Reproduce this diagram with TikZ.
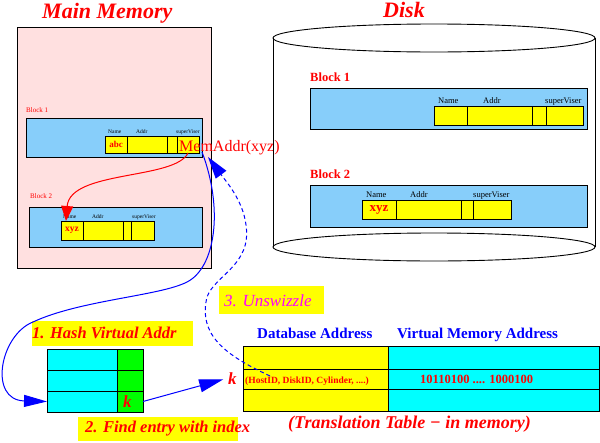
\documentclass[tikz,border=0pt]{standalone}
\usepackage{fontspec}
\setmainfont{Liberation Serif}
\usetikzlibrary{arrows.meta,calc}
\definecolor{mmpink}{RGB}{255,224,224}
\definecolor{skyb}{RGB}{135,206,250}
\definecolor{pcyan}{RGB}{0,255,255}
\definecolor{pgreen}{RGB}{0,255,0}
\definecolor{pyellow}{RGB}{255,255,0}
\definecolor{pred}{RGB}{255,0,0}
\definecolor{pblue}{RGB}{0,0,255}
\definecolor{pmagenta}{RGB}{255,0,255}
\newcommand\myfs[1]{\fontsize{#1}{#1}\selectfont}
\begin{document}
\begin{tikzpicture}[x=1pt,y=-1pt,
  box/.style={draw, line width=0.9pt, inner sep=0pt, outer sep=0pt, anchor=north west},
  lblbox/.style={fill=pyellow, inner sep=0pt, outer sep=0pt, anchor=north west},
  txt/.style={inner sep=0pt, anchor=base west},
  title/.style={txt, text=pred, font=\myfs{22}\bfseries\itshape},
  tinyhdr/.style={txt, font=\myfs{5.5}},
  diskhdr/.style={txt, font=\myfs{8.5}},
  steplbl/.style={txt, font=\myfs{16.5}\bfseries\itshape, text=pred},
  colhdr/.style={txt, font=\myfs{15}\bfseries, text=pblue},
  kletter/.style={txt, font=\myfs{17}\bfseries\itshape, text=pred},
  redcurve/.style={pred, line width=1pt, -{Triangle[length=15pt,width=12pt]}},
  bluecurve/.style={pblue, line width=1pt, -{Triangle[length=23pt,width=12pt]}},
  dashcurve/.style={pblue, line width=1pt, dash pattern=on 4pt off 3pt, -{Triangle[length=22pt,width=13pt]}},
  karrow/.style={pblue, line width=1pt, shorten >=5pt, -{Triangle[length=24pt,width=13pt]}}
]
\useasboundingbox (0,0) rectangle (600,442);

% titles
\node[title] (tmm) at (42,18) {Main Memory};
\node[title] (tdisk) at (383,17) {Disk};

% main memory
\node[box, fill=mmpink, minimum width=194pt, minimum height=241pt] (mm) at (17,27) {};
\node[txt, text=pred, font=\myfs{7}] (mmb1lbl) at (26,112) {Block 1};
\node[box, fill=skyb, minimum width=176pt, minimum height=39pt] (mm1) at (26,118) {};
\node[tinyhdr] (mm1h1) at (108,133) {Name};
\node[tinyhdr] (mm1h2) at (136,133) {Addr};
\node[tinyhdr] (mm1h3) at (176,133) {superViser};
\node[box, fill=pyellow, minimum width=22pt, minimum height=17pt] (m1n) at (105,136) {};
\node[box, fill=pyellow, minimum width=40pt, minimum height=17pt] (m1a) at (127,136) {};
\node[box, fill=pyellow, minimum width=10pt, minimum height=17pt] (m1x) at (167,136) {};
\node[box, fill=pyellow, minimum width=22pt, minimum height=17pt] (m1s) at (177,136) {};
\node[inner sep=0pt, text=pred, font=\myfs{9}\bfseries] (abc) at (m1n.center) {abc};

\node[txt, text=pred, font=\myfs{7}] (mmb2lbl) at (30,198) {Block 2};
\node[box, fill=skyb, minimum width=173pt, minimum height=40pt] (mm2) at (29,207) {};
\node[tinyhdr] (mm2h1) at (63,218) {Name};
\node[tinyhdr] (mm2h2) at (92,218) {Addr};
\node[tinyhdr] (mm2h3) at (132,218) {superViser};
\node[box, fill=pyellow, minimum width=22pt, minimum height=19pt] (m2n) at (61,221) {};
\node[box, fill=pyellow, minimum width=40pt, minimum height=19pt] (m2a) at (83,221) {};
\node[box, fill=pyellow, minimum width=8pt, minimum height=19pt] (m2x) at (123,221) {};
\node[box, fill=pyellow, minimum width=23pt, minimum height=19pt] (m2s) at (131,221) {};
\node[inner sep=0pt, text=pred, font=\myfs{9.5}\bfseries] (xyzm) at (m2n.center) {xyz};

\node[txt, text=pred, font=\myfs{16}] (memaddr) at (179,151) {MemAddr(xyz)};

% disk cylinder
\draw[line width=0.9pt] (434,38) ellipse [x radius=161pt, y radius=14pt];
\draw[line width=0.9pt] (434,247) ellipse [x radius=161pt, y radius=14pt];
\draw[line width=0.9pt] (273,38) -- (273,247);
\draw[line width=0.9pt] (595,38) -- (595,247);

\node[txt, text=pred, font=\myfs{12.5}\bfseries] (db1lbl) at (310,81) {Block 1};
\node[box, fill=skyb, minimum width=277pt, minimum height=41pt] (d1) at (310,88) {};
\node[diskhdr] (d1h1) at (438,103) {Name};
\node[diskhdr] (d1h2) at (483,103) {Addr};
\node[diskhdr] (d1h3) at (545,103) {superViser};
\node[box, fill=pyellow, minimum width=33pt, minimum height=19pt] (d1n) at (434,106) {};
\node[box, fill=pyellow, minimum width=65pt, minimum height=19pt] (d1a) at (467,106) {};
\node[box, fill=pyellow, minimum width=14pt, minimum height=19pt] (d1x) at (532,106) {};
\node[box, fill=pyellow, minimum width=37pt, minimum height=19pt] (d1s) at (546,106) {};

\node[txt, text=pred, font=\myfs{12.5}\bfseries] (db2lbl) at (310,178) {Block 2};
\node[box, fill=skyb, minimum width=277pt, minimum height=42pt] (d2) at (310,185) {};
\node[diskhdr] (d2h1) at (366,197) {Name};
\node[diskhdr] (d2h2) at (410,197) {Addr};
\node[diskhdr] (d2h3) at (473,197) {superViser};
\node[box, fill=pyellow, minimum width=34pt, minimum height=19pt] (d2n) at (362,200) {};
\node[box, fill=pyellow, minimum width=65pt, minimum height=19pt] (d2a) at (396,200) {};
\node[box, fill=pyellow, minimum width=12pt, minimum height=19pt] (d2x) at (461,200) {};
\node[box, fill=pyellow, minimum width=38pt, minimum height=19pt] (d2s) at (473,200) {};
\node[inner sep=0pt, text=pred, font=\myfs{13}\bfseries] (xyzd) at (d2n.center) {xyz};

% step labels
\node[lblbox, minimum width=105pt, minimum height=28pt] (lb3) at (219,286) {};
\node[txt, text=pmagenta, font=\myfs{17}\itshape] (unsw) at (224,306) {3. Unswizzle};
\node[lblbox, minimum width=161pt, minimum height=25pt] (lb1) at (32,321) {};
\node[steplbl] (hashlbl) at (32,338) {1. Hash Virtual Addr};
\node[lblbox, minimum width=160pt, minimum height=24pt] (lb2) at (78,417) {};
\node[steplbl] (findlbl) at (85,432) {2. Find entry with index};

% hash table
\node[box, fill=pcyan, minimum width=70pt, minimum height=21pt] (h1L) at (47,349) {};
\node[box, fill=pgreen, minimum width=26pt, minimum height=21pt] (h1R) at (117,349) {};
\node[box, fill=pcyan, minimum width=70pt, minimum height=21pt] (h2L) at (47,370) {};
\node[box, fill=pgreen, minimum width=26pt, minimum height=21pt] (h2R) at (117,370) {};
\node[box, fill=pcyan, minimum width=70pt, minimum height=21pt] (h3L) at (47,391) {};
\node[box, fill=pgreen, minimum width=26pt, minimum height=21pt] (h3R) at (117,391) {};
\node[kletter] (kh) at (123,407) {k};

% translation table
\node[colhdr] (dbaddr) at (257,338) {Database Address};
\node[colhdr] (vmaddr) at (397,338) {Virtual Memory Address};
\node[box, fill=pyellow, minimum width=145pt, minimum height=23pt] (t1L) at (243,346) {};
\node[box, fill=pcyan, minimum width=211pt, minimum height=23pt] (t1R) at (388,346) {};
\node[box, fill=pyellow, minimum width=145pt, minimum height=20pt] (t2L) at (243,369) {};
\node[box, fill=pcyan, minimum width=211pt, minimum height=20pt] (t2R) at (388,369) {};
\node[box, fill=pyellow, minimum width=145pt, minimum height=22pt] (t3L) at (243,389) {};
\node[box, fill=pcyan, minimum width=211pt, minimum height=22pt] (t3R) at (388,389) {};
\node[txt, text=pred, font=\myfs{9.5}\bfseries] (host) at (245,383) {(HostID, DiskID, Cylinder, ....)};
\node[txt, text=pred, font=\myfs{12.5}\bfseries] (bits) at (420,383) {10110100 .... 1000100};
\node[kletter] (ktt) at (228,384) {k};
\node[txt, text=pred, font=\myfs{18}\bfseries\itshape] (ttcap) at (288,428) {(Translation Table − in memory)};

% connectors
\coordinate (ptr) at (208,157);
\draw[redcurve] (m1s.south) .. controls (175,180) and (70,170) .. ($(m2n.north west)+(5,0)$);
\draw[bluecurve] ($(mm1.south east)+(0,-5)$) .. controls (224,210) and (215,268) .. (187,282)
  .. controls (160,296) and (80,300) .. (33,322)
  .. controls (0,335) and (-12,400) .. (h3L.west);
\draw[dashcurve] ($(t2L.west)+(27,-3)$) .. controls (225,355) and (198,335) .. (207,297)
  .. controls (215,275) and (252,265) .. (246,225)
  .. controls (243,200) and (225,180) .. (ptr);
\draw[karrow] (h3R.east) -- (ktt.west);
\end{tikzpicture}
\end{document}
